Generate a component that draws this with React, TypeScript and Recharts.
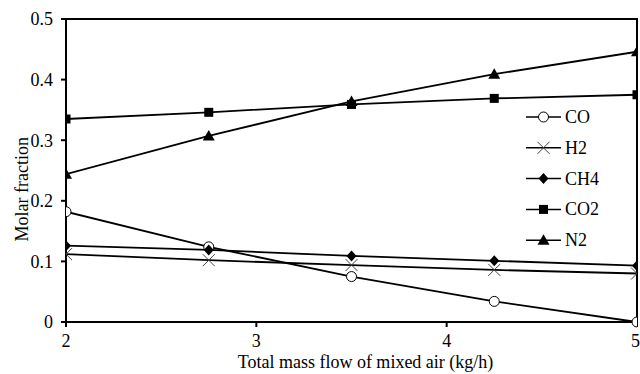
import { LineChart, Line, XAxis, YAxis, ReferenceArea } from "recharts";

// Total mass flow of mixed air (kg/h)
const FLOW = [2, 2.75, 3.5, 4.25, 5];
const CO = [0.182, 0.124, 0.075, 0.034, 0.0];
const H2 = [0.112, 0.102, 0.094, 0.086, 0.08];
const CH4 = [0.126, 0.119, 0.109, 0.101, 0.093];
const CO2 = [0.335, 0.346, 0.359, 0.369, 0.375];
const N2 = [0.244, 0.307, 0.364, 0.409, 0.446];
const X_TICKS = [2, 3, 4, 5];
const Y_TICKS = [0, 0.1, 0.2, 0.3, 0.4, 0.5];

const FONT = "'Liberation Serif', 'Times New Roman', serif";

const data = FLOW.map((x, i) => ({
  x,
  CO: CO[i],
  H2: H2[i],
  CH4: CH4[i],
  CO2: CO2[i],
  N2: N2[i],
}));

type Shape = "circle" | "cross" | "diamond" | "square" | "triangle";

function Marker({ cx, cy, shape }: { cx: number; cy: number; shape: Shape }) {
  switch (shape) {
    case "circle":
      return <circle cx={cx} cy={cy} r={5} fill="#fff" stroke="#000" strokeWidth={1} />;
    case "cross":
      return (
        <path
          d={`M${cx - 6},${cy - 6}L${cx + 6},${cy + 6}M${cx - 6},${cy + 6}L${cx + 6},${cy - 6}`}
          stroke="#444"
          strokeWidth={1}
        />
      );
    case "diamond":
      return <path d={`M${cx},${cy - 5.5}L${cx + 5},${cy}L${cx},${cy + 5.5}L${cx - 5},${cy}Z`} fill="#000" />;
    case "square":
      return <rect x={cx - 4.5} y={cy - 4.5} width={9} height={9} fill="#000" />;
    default:
      return <path d={`M${cx},${cy - 6}L${cx + 6},${cy + 4.5}L${cx - 6},${cy + 4.5}Z`} fill="#000" />;
  }
}

const SERIES: { key: string; shape: Shape }[] = [
  { key: "CO", shape: "circle" },
  { key: "H2", shape: "cross" },
  { key: "CH4", shape: "diamond" },
  { key: "CO2", shape: "square" },
  { key: "N2", shape: "triangle" },
];

// legend drawn as an overlay so it doesn't eat plot space
function LegendBox() {
  return (
    <svg width={90} height={160} style={{ position: "absolute", left: 526, top: 105 }}>
      {SERIES.map((s, i) => {
        const y = 12 + i * 30.8;
        return (
          <g key={s.key}>
            <line x1={0} x2={35} y1={y} y2={y} stroke="#000" strokeWidth={1.5} />
            <Marker cx={17.5} cy={y} shape={s.shape} />
            <text x={39} y={y + 6} fontFamily={FONT} fontSize={18} fill="#000">
              {s.key}
            </text>
          </g>
        );
      })}
    </svg>
  );
}

export default function App() {
  return (
    <div style={{ position: "absolute", left: 0, top: 0, width: 640, height: 374, background: "#fff" }}>
      <LineChart width={640} height={374} data={data} margin={{ top: 19, right: 3, bottom: 0, left: 0 }}>
        <XAxis
          dataKey="x"
          type="number"
          domain={[2, 5]}
          ticks={X_TICKS}
          allowDataOverflow
          height={52}
          stroke="#000"
          strokeWidth={2}
          tickSize={5}
          tickMargin={7}
          tick={{ fill: "#000", fontFamily: FONT, fontSize: 18 }}
          label={{
            value: "Total mass flow of mixed air (kg/h)",
            position: "insideBottom",
            offset: 6,
            dx: 14,
            fill: "#000",
            fontFamily: FONT,
            fontSize: 18,
          }}
        />
        <YAxis
          type="number"
          domain={[0, 0.5]}
          ticks={Y_TICKS}
          width={66}
          stroke="#000"
          strokeWidth={2}
          tickSize={5}
          tickMargin={8}
          tick={{ fill: "#000", fontFamily: FONT, fontSize: 18 }}
          label={{
            value: "Molar fraction",
            angle: -90,
            position: "insideLeft",
            offset: 22,
            dy: 71,
            fill: "#000",
            fontFamily: FONT,
            fontSize: 18,
          }}
        />
        <ReferenceArea x1={2} x2={5} y1={0} y2={0.5} fill="none" stroke="#000" strokeWidth={2} />
        {SERIES.map((s) => (
          <Line
            key={s.key}
            dataKey={s.key}
            stroke="#000"
            strokeWidth={1.8}
            isAnimationActive={false}
            dot={(p: any) => <Marker key={`${s.key}-${p.index}`} cx={p.cx} cy={p.cy} shape={s.shape} />}
            activeDot={false}
          />
        ))}
      </LineChart>
      <LegendBox />
    </div>
  );
}
